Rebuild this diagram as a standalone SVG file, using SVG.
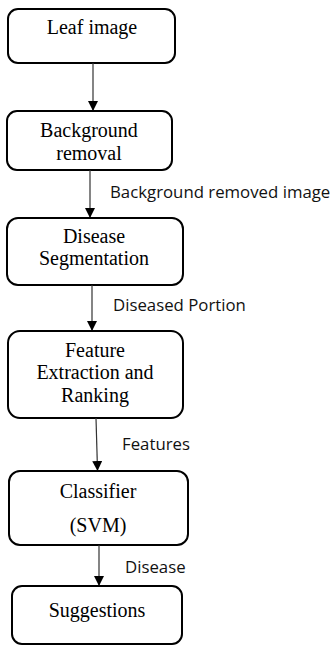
<svg xmlns="http://www.w3.org/2000/svg" width="333" height="646" viewBox="0 0 333 646">
<style>
.box{fill:#fff;stroke:#000;stroke-width:2}
.t{font-family:"Liberation Serif","Times New Roman",serif;font-size:20px;fill:#000;text-anchor:middle}
.l{font-family:"Open Sans","Liberation Sans",sans-serif;font-size:16.8px;fill:#111}
.c{stroke:#333;stroke-width:1.2;fill:none}
</style>
<defs>
<marker id="ah" markerWidth="10" markerHeight="10" refX="9" refY="5" orient="auto" markerUnits="userSpaceOnUse">
<path d="M0,0 L10,5 L0,10 Z" fill="#000"/>
</marker>
</defs>
<rect width="333" height="646" fill="#fff"/>
<g id="n1"><rect class="box" x="8" y="9" width="167" height="54" rx="10"/><text class="t" x="92" y="34">Leaf image</text></g>
<g id="n2"><rect class="box" x="7" y="111" width="165" height="59" rx="10"/><text class="t" x="89" y="137">Background</text><text class="t" x="89" y="160">removal</text></g>
<g id="n3"><rect class="box" x="7" y="218" width="176" height="67" rx="11"/><text class="t" x="94" y="243">Disease</text><text class="t" x="94" y="265">Segmentation</text></g>
<g id="n4"><rect class="box" x="8" y="331" width="175" height="87" rx="12"/><text class="t" x="95" y="357">Feature</text><text class="t" x="95" y="379">Extraction and</text><text class="t" x="95" y="402">Ranking</text></g>
<g id="n5"><rect class="box" x="9" y="471" width="179" height="74" rx="11"/><text class="t" x="98" y="498">Classifier</text><text class="t" x="98" y="532">(SVM)</text></g>
<g id="n6"><rect class="box" x="12" y="586" width="170" height="58" rx="10"/><text class="t" x="97" y="617">Suggestions</text></g>
<g id="connectors">
<line class="c" x1="93" y1="63" x2="93" y2="110" marker-end="url(#ah)"/>
<line class="c" x1="90" y1="170" x2="90" y2="217" marker-end="url(#ah)"/>
<text class="l" x="110" y="198">Background removed image</text>
<line class="c" x1="92" y1="285" x2="92" y2="330" marker-end="url(#ah)"/>
<text class="l" x="113" y="311">Diseased Portion</text>
<line class="c" x1="96" y1="418" x2="97.5" y2="470" marker-end="url(#ah)"/>
<text class="l" x="122" y="450">Features</text>
<line class="c" x1="99" y1="545" x2="99" y2="585" marker-end="url(#ah)"/>
<text class="l" x="125" y="573">Disease</text>
</g>
</svg>
